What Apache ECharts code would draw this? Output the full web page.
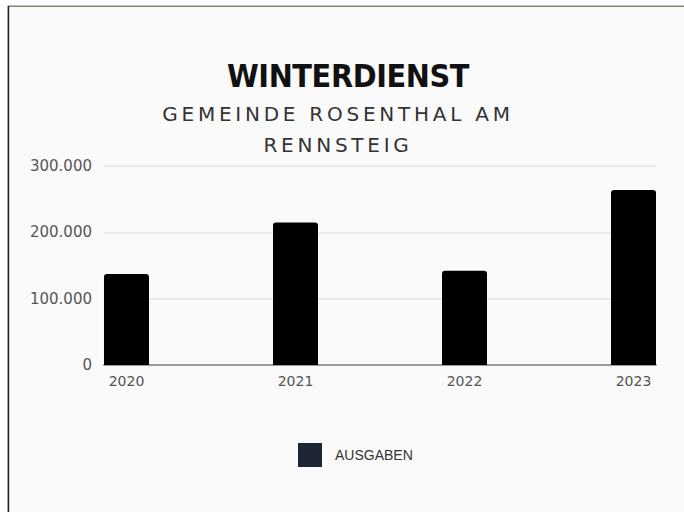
<!DOCTYPE html>
<html>
<head>
<meta charset="utf-8">
<script src="https://cdn.jsdelivr.net/npm/echarts@6/dist/echarts.min.js"></script>
<style>
html,body{margin:0;padding:0;background:#fff;}
#chart{width:684px;height:512px;}
</style>
</head>
<body>
<div id="chart"></div>
<script>
const years = ['2020', '2021', '2022', '2023'];
const ausgaben = [137000, 215000, 142000, 264000];
const seriesName = 'AUSGABEN';
const titleText = 'WINTERDIENST';
const subtitleLines = ['GEMEINDE ROSENTHAL AM', 'RENNSTEIG'];

function deFormat(v) {
  return String(Math.round(v)).replace(/\B(?=(\d{3})+(?!\d))/g, '.');
}

const chart = echarts.init(document.getElementById('chart'), null, {renderer: 'svg'});
const option = {
  animation: false,
  backgroundColor: '#ffffff',
  graphic: [
    {type: 'rect', z: -100, shape: {x: 8, y: 6, width: 676, height: 506}, style: {fill: '#fafafa'}},
    {type: 'rect', z: -99, shape: {x: 8, y: 5.5, width: 676, height: 1.6}, style: {fill: '#8a8074'}},
    {type: 'rect', z: -99, shape: {x: 7.6, y: 6, width: 1.6, height: 506}, style: {fill: '#2e1f16'}}
  ],
  title: [
    {
      text: titleText, left: 348, top: 60, textAlign: 'center', padding: 0,
      textStyle: {fontFamily: "'DejaVu Sans Condensed', sans-serif", fontSize: 32, fontWeight: 'bold', color: '#111111'}
    },
    {
      text: subtitleLines.join('\n'), left: 338, top: 98, textAlign: 'center', padding: 0,
      textStyle: {fontFamily: "'DejaVu Sans', sans-serif", fontSize: 20, fontWeight: 'normal', color: '#333333', lineHeight: 31}
    }
  ],
  grid: {left: 104, right: 28, top: 166, bottom: 147, containLabel: false, outerBoundsMode: 'none'},
  xAxis: {
    type: 'value', min: -0.1331, max: 3.1331,
    axisLine: {show: true, onZero: true, lineStyle: {color: '#9a9a9a', width: 2}},
    axisTick: {show: false},
    splitLine: {show: false},
    axisLabel: {
      customValues: [0, 1, 2, 3],
      formatter: function (v) { return years[Math.round(v)]; },
      fontFamily: "'DejaVu Sans', sans-serif", fontSize: 14, color: '#555555', margin: 9
    }
  },
  yAxis: {
    type: 'value', min: 0, max: 300000, interval: 100000,
    axisLine: {show: false},
    axisTick: {show: false},
    splitLine: {lineStyle: {color: '#ebebeb', width: 2}},
    axisLabel: {
      formatter: deFormat,
      fontFamily: "'DejaVu Sans', sans-serif", fontSize: 15, color: '#555555', margin: 12
    }
  },
  legend: {
    left: 298, top: 443, padding: 0,
    icon: 'rect', itemWidth: 24, itemHeight: 24,
    textStyle: {fontFamily: "'Liberation Sans', Arial, sans-serif", fontSize: 14, color: '#333333', padding: [0, 0, 0, 8]},
    data: [{name: seriesName, itemStyle: {color: '#1e2533'}}]
  },
  series: [{
    type: 'bar', name: seriesName,
    data: ausgaben.map(function (v, i) { return [i, v]; }),
    barWidth: 45,
    itemStyle: {color: '#000000', borderRadius: [3, 3, 0, 0]}
  }]
};
chart.setOption(option);

function applySpacing() {
  document.querySelectorAll('#chart svg text').forEach(function (t) {
    const s = t.textContent;
    if (subtitleLines.indexOf(s) >= 0) t.setAttribute('letter-spacing', '3.75');
    if (s === titleText) t.setAttribute('letter-spacing', '-0.4');
  });
}
applySpacing();
chart.on('finished', applySpacing);
</script>
</body>
</html>
